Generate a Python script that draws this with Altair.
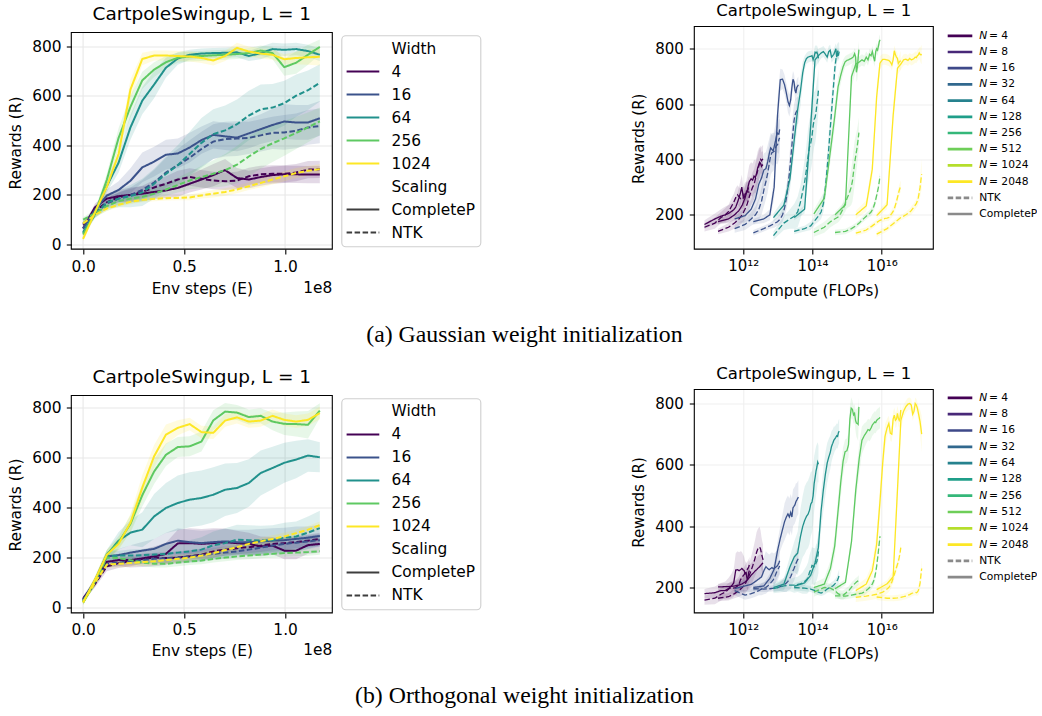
import altair as alt
import pandas as pd

FONT = "DejaVu Sans"
CAPTION_FONT = "Liberation Serif"

# ------------------------------------------------------------------ data
# environment steps at each evaluation point
env_steps = [0, 5.86e6, 1.172e7, 1.758e7, 2.344e7, 2.93e7, 3.516e7, 4.102e7, 4.688e7, 5.274e7,
             5.86e7, 6.446e7, 7.032e7, 7.618e7, 8.204e7, 8.79e7, 9.376e7, 9.962e7, 1.0548e8,
             1.1134e8, 1.172e8]

sweep_widths = [4, 16, 64, 256, 1024]
sweep_colors = ["#440154", "#3b528b", "#21918c", "#5ec962", "#fde725"]

compute_widths = [4, 8, 16, 32, 64, 128, 256, 512, 1024, 2048]
compute_colors = ["#440154", "#482878", "#3e4989", "#31688e", "#26828e",
                  "#1f9e89", "#35b779", "#6ece58", "#b5de2b", "#fde725"]
# training FLOPs per environment step for each width
flops_per_step = [1.29e4, 3.18e4, 9.60e4, 3.33e5, 1.27e6, 5.04e6, 1.87e7, 7.63e7, 3.04e8, 1.22e9]

scalings = ["CompleteP", "NTK"]

# ---- Gaussian init, reward vs env steps (mean and band half-width)
gauss_cp = {
    4: [65, 150, 185, 195, 200, 205, 212, 218, 228, 245, 262, 280, 300, 268, 262, 272, 280, 283, 283, 282, 282],
    16: [65, 140, 197, 220, 257, 311, 334, 362, 367, 391, 421, 442, 436, 431, 448, 465, 482, 496, 492, 492, 509],
    64: [50, 125, 235, 330, 472, 580, 645, 713, 750, 765, 770, 772, 773, 775, 760, 772, 788, 785, 788, 780, 765],
    256: [40, 125, 260, 430, 555, 662, 705, 735, 753, 758, 760, 763, 765, 768, 772, 782, 772, 715, 733, 765, 797],
    1024: [23, 130, 232, 365, 625, 748, 762, 762, 760, 758, 752, 742, 760, 793, 778, 770, 765, 747, 752, 755, 757],
}
gauss_ntk = {
    4: [80, 135, 170, 190, 200, 212, 230, 245, 262, 272, 265, 258, 255, 258, 275, 283, 285, 285, 290, 302, 303],
    16: [85, 125, 165, 185, 200, 220, 250, 290, 320, 350, 385, 415, 425, 427, 430, 440, 450, 452, 458, 472, 478],
    64: [45, 120, 170, 185, 195, 210, 245, 285, 320, 365, 410, 445, 460, 485, 520, 545, 552, 570, 600, 622, 652],
    256: [100, 125, 155, 175, 185, 192, 205, 222, 240, 258, 272, 285, 300, 322, 355, 385, 408, 428, 450, 472, 497],
    1024: [85, 120, 145, 160, 172, 180, 184, 187, 188, 190, 198, 205, 212, 222, 235, 248, 262, 275, 288, 297, 304],
}
gauss_cp_spread = {
    4: [10, 15, 20, 25, 30, 30, 30, 30, 35, 35, 40, 45, 45, 40, 35, 35, 35, 35, 35, 35, 35],
    16: [10, 15, 25, 35, 50, 60, 60, 60, 60, 60, 55, 55, 55, 55, 60, 60, 65, 70, 70, 70, 70],
    64: [10, 15, 25, 40, 50, 55, 55, 40, 25, 20, 20, 20, 20, 20, 20, 25, 25, 25, 25, 25, 25],
    256: [10, 15, 25, 40, 45, 35, 30, 25, 20, 20, 20, 20, 20, 20, 20, 20, 25, 35, 45, 40, 30],
    1024: [10, 15, 20, 30, 40, 25, 20, 20, 20, 20, 20, 20, 20, 20, 20, 20, 20, 20, 25, 30, 35],
}
gauss_ntk_spread = {
    4: [10, 15, 20, 20, 25, 25, 30, 30, 35, 35, 35, 35, 35, 35, 35, 35, 35, 35, 35, 35, 35],
    16: [10, 15, 20, 25, 30, 40, 50, 60, 65, 70, 70, 70, 70, 70, 65, 65, 65, 70, 70, 70, 70],
    64: [10, 15, 25, 35, 45, 55, 60, 70, 80, 90, 100, 100, 100, 100, 100, 100, 95, 90, 85, 80, 75],
    256: [10, 15, 20, 20, 20, 20, 20, 25, 30, 35, 45, 55, 65, 75, 80, 80, 75, 70, 65, 60, 55],
    1024: [10, 10, 10, 10, 10, 10, 10, 10, 10, 12, 12, 15, 15, 15, 15, 18, 20, 20, 20, 20, 20],
}

# ---- Orthogonal init, reward vs env steps
orth_cp = {
    4: [35, 100, 183, 190, 190, 197, 205, 215, 257, 258, 255, 258, 262, 258, 255, 245, 248, 228, 228, 250, 255],
    16: [30, 105, 205, 210, 220, 228, 235, 255, 268, 262, 258, 262, 265, 262, 262, 265, 268, 270, 275, 280, 287],
    64: [22, 108, 211, 268, 300, 312, 365, 399, 419, 432, 439, 452, 472, 479, 499, 539, 559, 580, 593, 609, 602],
    256: [20, 105, 211, 262, 335, 450, 545, 612, 643, 646, 665, 750, 785, 781, 763, 768, 745, 736, 735, 732, 789],
    1024: [20, 111, 211, 255, 340, 480, 606, 693, 720, 735, 703, 700, 749, 762, 745, 749, 768, 752, 745, 752, 779],
}
orth_ntk = {
    4: [35, 95, 165, 178, 185, 195, 200, 198, 200, 205, 212, 225, 232, 238, 242, 248, 255, 258, 262, 268, 275],
    16: [30, 100, 175, 180, 185, 190, 195, 198, 200, 205, 210, 215, 220, 225, 232, 240, 248, 255, 260, 265, 270],
    64: [25, 105, 205, 208, 208, 210, 212, 215, 220, 225, 232, 250, 258, 272, 270, 268, 270, 280, 285, 300, 318],
    256: [22, 100, 200, 198, 190, 180, 175, 175, 180, 185, 188, 195, 200, 205, 208, 212, 215, 218, 220, 222, 226],
    1024: [22, 100, 172, 175, 178, 182, 185, 190, 195, 200, 208, 218, 230, 242, 255, 265, 275, 285, 298, 312, 330],
}
orth_cp_spread = {
    4: [10, 15, 20, 25, 30, 35, 40, 45, 55, 60, 60, 60, 55, 50, 45, 40, 35, 35, 35, 35, 35],
    16: [10, 15, 20, 25, 30, 35, 40, 45, 50, 50, 50, 50, 50, 50, 50, 50, 50, 50, 50, 45, 45],
    64: [10, 15, 20, 35, 50, 70, 90, 100, 110, 110, 110, 110, 105, 100, 95, 90, 85, 80, 75, 65, 60],
    256: [10, 15, 20, 25, 35, 45, 50, 45, 40, 40, 40, 40, 35, 30, 30, 30, 35, 45, 50, 55, 30],
    1024: [10, 15, 20, 25, 35, 50, 45, 40, 30, 25, 25, 25, 25, 25, 25, 25, 25, 25, 25, 25, 25],
}
orth_ntk_spread = {
    4: [10, 15, 20, 20, 20, 20, 20, 25, 25, 25, 25, 25, 25, 25, 25, 25, 25, 25, 25, 25, 25],
    16: [10, 15, 15, 15, 15, 15, 20, 20, 20, 20, 20, 25, 25, 25, 25, 25, 25, 25, 25, 25, 25],
    64: [10, 15, 20, 20, 25, 25, 30, 35, 40, 45, 50, 55, 60, 60, 60, 60, 60, 60, 60, 65, 70],
    256: [10, 15, 15, 15, 15, 15, 15, 15, 15, 15, 15, 15, 15, 15, 15, 15, 15, 15, 15, 15, 15],
    1024: [10, 15, 15, 15, 15, 15, 15, 15, 15, 15, 15, 15, 15, 15, 15, 15, 15, 15, 15, 15, 15],
}

# ---- compute sweeps: first logged point of the swept widths, and the extra widths
gauss_first_cp = {4: 165, 16: 185, 64: 190, 256: 203, 1024: 200}
gauss_first_ntk = {4: 155, 16: 150, 64: 125, 256: 136, 1024: 134}
gauss_extra_cp = {
    8: [175, 185, 200, 215, 235, 260, 290, 320, 330, 325, 340, 335, 350, 370, 380, 390, 385, 375, 380, 378],
    32: [175, 185, 200, 300, 560, 688, 690, 670, 640, 610, 595, 615, 660, 690, 680, 650, 640, 660, 665, 670],
    128: [190, 220, 520, 760, 775, 785, 790, 780, 770, 790, 795, 770, 775, 780, 790, 800, 770, 785, 775, 790],
    512: [200, 236, 700, 745, 752, 760, 755, 770, 760, 780, 775, 790, 770, 755, 790, 800, 795, 810, 825, 833],
    2048: [197, 236, 560, 730, 745, 760, 762, 758, 765, 760, 762, 765, 770, 768, 775, 778, 785, 780, 778, 780],
}
gauss_extra_ntk = {
    8: [140, 155, 170, 185, 200, 220, 240, 265, 285, 300, 310, 330, 345, 360, 375, 390, 400, 395, 400, 402],
    32: [135, 150, 160, 168, 175, 185, 200, 225, 260, 300, 350, 400, 450, 500, 540, 560, 570, 575, 578, 580],
    128: [140, 150, 160, 180, 195, 210, 240, 300, 370, 440, 510, 570, 630, 680, 730, 760, 780, 790, 795, 790],
    512: [136, 140, 150, 160, 170, 180, 188, 195, 200, 205, 210, 218, 228, 240, 255, 270, 285, 300, 320, 340],
    2048: [130, 150, 168, 180, 190, 195, 200, 205, 210, 215, 222, 228, 235, 240, 250, 262, 280, 300, 325, 347],
}
gauss_extra_cp_spread = {
    8: [10, 15, 20, 25, 30, 40, 50, 60, 60, 60, 60, 60, 60, 60, 60, 55, 55, 50, 50, 50],
    32: [10, 15, 20, 40, 60, 40, 35, 35, 35, 40, 40, 40, 35, 30, 30, 30, 30, 30, 30, 30],
    128: [10, 15, 60, 30, 25, 20, 20, 20, 20, 20, 20, 20, 20, 20, 20, 20, 20, 20, 20, 20],
    512: [10, 15, 40, 25, 20, 20, 20, 20, 20, 20, 20, 20, 20, 20, 20, 20, 20, 20, 20, 20],
    2048: [10, 15, 40, 25, 20, 20, 20, 20, 20, 20, 20, 20, 20, 20, 20, 20, 20, 25, 30, 35],
}
gauss_extra_ntk_spread = {
    8: [10, 15, 20, 25, 30, 35, 40, 45, 50, 55, 55, 55, 55, 55, 55, 50, 50, 50, 50, 50],
    32: [10, 10, 10, 15, 15, 20, 25, 30, 40, 50, 60, 70, 70, 70, 60, 55, 50, 50, 50, 50],
    128: [10, 10, 15, 15, 20, 25, 30, 40, 50, 60, 60, 60, 55, 50, 45, 40, 35, 30, 30, 30],
    512: [10, 10, 10, 10, 10, 10, 10, 12, 12, 12, 15, 15, 15, 15, 15, 15, 15, 15, 15, 15],
    2048: [10, 10, 10, 10, 10, 10, 10, 12, 12, 15, 15, 15, 15, 15, 20, 25, 30, 35, 45, 55],
}

orth_first_cp = {4: 180, 16: 196, 64: 200, 256: 200, 1024: 190}
orth_first_ntk = {4: 159, 16: 190, 64: 196, 256: 185, 1024: 168}
orth_extra_cp = {
    8: [202, 203, 205, 208, 212, 218, 225, 232, 240, 245, 250, 255, 258, 262, 265, 268, 272, 275, 278, 280],
    32: [200, 205, 230, 260, 320, 360, 390, 415, 430, 440, 430, 445, 430, 460, 465, 470, 480, 485, 490, 495],
    128: [204, 215, 240, 280, 330, 450, 520, 570, 606, 625, 640, 660, 670, 680, 685, 690, 695, 693, 705, 710],
    512: [196, 217, 350, 520, 620, 680, 695, 705, 715, 712, 720, 730, 735, 740, 738, 745, 748, 750, 752, 755],
    2048: [193, 212, 235, 520, 745, 775, 790, 798, 800, 795, 765, 775, 800, 795, 785, 770, 755, 740, 720, 700],
}
orth_extra_ntk = {
    8: [165, 170, 180, 190, 200, 210, 225, 240, 255, 270, 285, 300, 315, 325, 330, 332, 325, 310, 300, 290],
    32: [196, 195, 196, 198, 200, 203, 206, 210, 215, 220, 228, 235, 245, 255, 262, 270, 278, 285, 290, 295],
    128: [200, 198, 195, 190, 185, 182, 185, 190, 195, 198, 200, 203, 205, 208, 212, 215, 220, 225, 232, 240],
    512: [173, 172, 175, 178, 180, 182, 185, 190, 195, 200, 205, 212, 220, 232, 250, 270, 295, 320, 345, 367],
    2048: [169, 165, 165, 166, 168, 170, 172, 175, 177, 180, 182, 184, 185, 183, 185, 190, 200, 215, 240, 262],
}
orth_extra_cp_spread = {
    8: [10, 12, 15, 20, 25, 30, 35, 40, 40, 40, 40, 40, 40, 40, 40, 40, 40, 40, 40, 40],
    32: [10, 10, 15, 20, 30, 40, 50, 60, 60, 60, 60, 60, 60, 60, 60, 60, 60, 55, 55, 55],
    128: [10, 10, 15, 25, 40, 60, 70, 70, 65, 60, 55, 50, 45, 45, 40, 40, 40, 40, 40, 40],
    512: [10, 10, 20, 40, 50, 45, 40, 35, 35, 35, 35, 35, 35, 35, 35, 35, 35, 35, 35, 35],
    2048: [10, 12, 20, 40, 30, 20, 20, 20, 20, 20, 20, 20, 20, 20, 20, 25, 30, 40, 50, 60],
}
orth_extra_ntk_spread = {
    8: [10, 12, 15, 20, 25, 30, 35, 40, 45, 50, 55, 60, 65, 65, 65, 65, 60, 55, 50, 50],
    32: [10, 10, 10, 10, 12, 15, 20, 25, 30, 30, 35, 40, 40, 40, 40, 40, 40, 40, 40, 40],
    128: [10, 10, 10, 10, 10, 10, 10, 12, 12, 12, 12, 15, 15, 15, 15, 15, 15, 18, 20, 20],
    512: [10, 10, 10, 10, 10, 10, 10, 10, 10, 12, 12, 12, 15, 15, 15, 15, 15, 20, 20, 20],
    2048: [10, 10, 10, 10, 10, 10, 10, 10, 10, 10, 10, 10, 10, 10, 12, 15, 18, 20, 25, 30],
}

# tick values / labels
step_ticks = [0, 5e7, 1e8]
reward_ticks_sweep = [0, 200, 400, 600, 800]
reward_ticks_compute = [200, 400, 600, 800]
flop_ticks = [1e12, 1e14, 1e16]
flop_tick_text = ["10\u00b9\u00b2", "10\u00b9\u2074", "10\u00b9\u2076"]

panel_title = "CartpoleSwingup, L = 1"
caption_a = "(a) Gaussian weight initialization"
caption_b = "(b) Orthogonal weight initialization"


# ------------------------------------------------------------------ tables
def sweep_table(cp, ntk, cp_sd, ntk_sd):
    rows = []
    for w in sweep_widths:
        for scaling, vals, sds in (("CompleteP", cp[w], cp_sd[w]), ("NTK", ntk[w], ntk_sd[w])):
            for step, v, s in zip(env_steps, vals, sds):
                rows.append({"x": step, "reward": v, "lo": v - s, "hi": v + s,
                             "width": str(w), "scaling": scaling, "series": f"{w}-{scaling}"})
    return pd.DataFrame(rows)


def compute_table(cp, ntk, cp_sd, ntk_sd, first_cp, first_ntk,
                  extra_cp, extra_ntk, extra_cp_sd, extra_ntk_sd):
    rows = []
    for w, fps in zip(compute_widths, flops_per_step):
        for scaling in scalings:
            is_cp = scaling == "CompleteP"
            if w in sweep_widths:
                first = (first_cp if is_cp else first_ntk)[w]
                vals = [first] + (cp if is_cp else ntk)[w][2:]
                sds = (cp_sd if is_cp else ntk_sd)[w][1:]
            else:
                vals = (extra_cp if is_cp else extra_ntk)[w]
                sds = (extra_cp_sd if is_cp else extra_ntk_sd)[w]
            for step, v, s in zip(env_steps[1:], vals, sds):
                rows.append({"x": step * fps, "reward": v, "lo": v - s, "hi": v + s,
                             "width": str(w), "scaling": scaling, "series": f"{w}-{scaling}"})
    return pd.DataFrame(rows)


gauss_sweep = sweep_table(gauss_cp, gauss_ntk, gauss_cp_spread, gauss_ntk_spread)
orth_sweep = sweep_table(orth_cp, orth_ntk, orth_cp_spread, orth_ntk_spread)
gauss_compute = compute_table(gauss_cp, gauss_ntk, gauss_cp_spread, gauss_ntk_spread,
                              gauss_first_cp, gauss_first_ntk, gauss_extra_cp, gauss_extra_ntk,
                              gauss_extra_cp_spread, gauss_extra_ntk_spread)
orth_compute = compute_table(orth_cp, orth_ntk, orth_cp_spread, orth_ntk_spread,
                             orth_first_cp, orth_first_ntk, orth_extra_cp, orth_extra_ntk,
                             orth_extra_cp_spread, orth_extra_ntk_spread)


# ------------------------------------------------------------------ panels
def panel(df, *, width, height, x_dom, y_dom, frame_top, log_x, colors, domain_labels,
          dash, line_w, band_op, title_size, title_offset, font_size,
          x_axis_kw, y_axis_kw, grid_color, draw_x_grid_rules, offset_text=None):
    x_scale = alt.Scale(domain=x_dom, nice=False, zero=False, type="log" if log_x else "linear")
    y_scale = alt.Scale(domain=y_dom, nice=False, zero=False)
    common = dict(labelFont=FONT, labelFontSize=font_size, labelColor="black",
                  titleFont=FONT, titleFontSize=font_size, titleColor="black",
                  titleFontWeight="normal", tickColor="black", tickSize=5, tickWidth=1.1,
                  domain=False, gridColor=grid_color, gridWidth=1.1)
    x_axis = alt.Axis(**common, **x_axis_kw)
    y_axis = alt.Axis(**common, **y_axis_kw)

    def X(f):
        return alt.X(f, type="quantitative", scale=x_scale, axis=x_axis)

    def Y(f):
        return alt.Y(f, type="quantitative", scale=y_scale, axis=y_axis)

    color = alt.Color("width:N", scale=alt.Scale(domain=domain_labels, range=colors), legend=None)
    stroke_dash = alt.StrokeDash("scaling:N", scale=alt.Scale(domain=scalings, range=[[1, 0], dash]),
                                 legend=None)

    layers = []
    if draw_x_grid_rules:
        grid_df = pd.DataFrame({"gx": step_ticks, "g0": [y_dom[0]] * len(step_ticks),
                                "g1": [frame_top] * len(step_ticks)})
        layers.append(alt.Chart(grid_df).mark_rule(color=grid_color, strokeWidth=1.1)
                      .encode(x=X("gx"), y=Y("g0"), y2="g1"))
    layers.append(alt.Chart(df).mark_area(opacity=band_op, clip=True)
                  .encode(x=X("x"), y=Y("lo"), y2="hi", color=color, detail="series:N"))
    layers.append(alt.Chart(df).mark_line(strokeWidth=line_w, clip=True)
                  .encode(x=X("x"), y=Y("reward"), color=color, strokeDash=stroke_dash,
                          detail="series:N"))
    frame_df = pd.DataFrame({"x0": [x_dom[0]], "x1": [x_dom[1]], "y0": [y_dom[0]], "y1": [frame_top]})
    layers.append(alt.Chart(frame_df).mark_rect(fillOpacity=0, stroke="black", strokeWidth=1.1)
                  .encode(x=X("x0"), x2="x1", y=Y("y0"), y2="y1"))
    if offset_text is not None:
        text, ty = offset_text
        layers.append(alt.Chart(pd.DataFrame({"t": [text]}))
                      .mark_text(align="right", baseline="alphabetic", font=FONT,
                                 fontSize=font_size, color="black")
                      .encode(x=alt.value(width), y=alt.value(ty), text="t:N"))
    return alt.layer(*layers).properties(
        width=width, height=height,
        title=alt.TitleParams(panel_title, font=FONT, fontSize=title_size, fontWeight="normal",
                              color="black", anchor="middle", frame="group",
                              baseline="alphabetic", offset=title_offset),
    )


def sweep_panel(df, height, y_dom, frame_top, title_offset, ytitle_y, xlabel_base, xtitle_base):
    return panel(
        df, width=261, height=height, x_dom=[-5.84e6, 1.2337e8], y_dom=y_dom, frame_top=frame_top,
        log_x=False, colors=sweep_colors, domain_labels=[str(w) for w in sweep_widths],
        dash=[5.5, 2.5], line_w=2, band_op=0.15, title_size=18.5, title_offset=title_offset,
        font_size=15.4, grid_color="#e8e8e8", draw_x_grid_rules=True,
        x_axis_kw=dict(values=step_ticks, labelExpr="format(datum.value / 1e8, '.1f')", grid=False,
                       labelBaseline="alphabetic", labelPadding=xlabel_base - 5,
                       title="Env steps (E)", titleX=130.5, titleY=xtitle_base,
                       titleBaseline="alphabetic", titleAlign="center", titleAnchor="middle"),
        y_axis_kw=dict(values=reward_ticks_sweep, grid=True, labelPadding=5.3,
                       title="Rewards (R)", titleX=-56, titleY=ytitle_y, titleAngle=270,
                       titleAlign="center", titleBaseline="middle"),
        offset_text=("1e8", height + xtitle_base - 0.6),
    )


flop_label_expr = (f"datum.value < 1e13 ? '{flop_tick_text[0]}' : "
                   f"datum.value < 1e15 ? '{flop_tick_text[1]}' : '{flop_tick_text[2]}'")


def compute_panel(df, height, y_dom, title_offset, ytitle_y, xlabel_base, xtitle_base):
    return panel(
        df, width=239, height=height, x_dom=[10 ** 10.584, 10 ** 17.491], y_dom=y_dom,
        frame_top=y_dom[1], log_x=True, colors=compute_colors,
        domain_labels=[str(w) for w in compute_widths], dash=[4.4, 1.9], line_w=1.3,
        band_op=0.12, title_size=16.5, title_offset=title_offset, font_size=15,
        grid_color="#f0f0f0", draw_x_grid_rules=False,
        x_axis_kw=dict(values=flop_ticks, labelExpr=flop_label_expr, grid=True,
                       labelBaseline="alphabetic", labelPadding=xlabel_base - 5,
                       title="Compute (FLOPs)", titleX=119.5, titleY=xtitle_base,
                       titleBaseline="alphabetic", titleAlign="center", titleAnchor="middle"),
        y_axis_kw=dict(values=reward_ticks_compute, grid=True, labelPadding=6,
                       title="Rewards (R)", titleX=-56, titleY=ytitle_y, titleAngle=270,
                       titleAlign="center", titleBaseline="middle"),
    )


# ------------------------------------------------------------------ legends
def sweep_legend(height):
    labels = ["Width"] + [str(w) for w in sweep_widths] + ["Scaling", "CompleteP", "NTK"]
    colors = ["none"] + sweep_colors + ["none", "#3d3d3d", "#3d3d3d"]
    dashes = ["none"] + ["solid"] * 5 + ["none", "solid", "dashed"]
    ent = pd.DataFrame({"r": list(range(len(labels))), "label": labels, "color": colors,
                        "dash": dashes, "s0": 5.3, "s1": 38.0, "tx": 50.3})
    row0, gap = 22.0, 23.0
    xs = alt.Scale(domain=[0, 140], nice=False, zero=False)
    ys = alt.Scale(domain=[-row0 / gap, (height - row0) / gap], nice=False, zero=False, reverse=True)
    box = pd.DataFrame({"x0": [0.5], "x1": [139.5], "y0": [-0.552], "y1": [8.622]})
    box_layer = alt.Chart(box).mark_rect(fill="white", stroke="#cfcfcf", strokeWidth=1.1,
                                         cornerRadius=4).encode(
        x=alt.X("x0:Q", scale=xs, axis=None), x2="x1",
        y=alt.Y("y0:Q", scale=ys, axis=None), y2="y1")
    seg = alt.Chart(ent).transform_filter("datum.dash != 'none'").mark_rule(strokeWidth=2.2).encode(
        x=alt.X("s0:Q", scale=xs, axis=None), x2="s1:Q",
        y=alt.Y("r:Q", scale=ys, axis=None),
        color=alt.Color("color:N", scale=None),
        strokeDash=alt.StrokeDash("dash:N", scale=alt.Scale(domain=["solid", "dashed"],
                                                            range=[[1, 0], [5.5, 2.5]]), legend=None))
    txt = alt.Chart(ent).mark_text(align="left", baseline="middle", font=FONT, fontSize=15.4,
                                   color="black").encode(
        x=alt.X("tx:Q", scale=xs, axis=None), y=alt.Y("r:Q", scale=ys, axis=None), text="label:N")
    return alt.layer(box_layer, seg, txt).properties(width=140, height=height)


def compute_legend(height, row0, gap):
    pre = ["N"] * len(compute_widths) + ["", ""]
    post = [f"= {w}" for w in compute_widths] + ["NTK", "CompleteP"]
    colors = compute_colors + ["#8a8a8a", "#8a8a8a"]
    dashes = ["solid"] * len(compute_widths) + ["dashed", "solid"]
    post_x = [46.7] * len(compute_widths) + [37.0, 37.0]
    ent = pd.DataFrame({"r": list(range(len(post))), "pre": pre, "post": post, "color": colors,
                        "dash": dashes, "s0": 5.4, "s1": 30.0, "tx": 37.0, "px": post_x})
    xs = alt.Scale(domain=[0, 90], nice=False, zero=False)
    ys = alt.Scale(domain=[-row0 / gap, (height - row0) / gap], nice=False, zero=False, reverse=True)
    seg = alt.Chart(ent).mark_rule(strokeWidth=2.7).encode(
        x=alt.X("s0:Q", scale=xs, axis=None), x2="s1:Q",
        y=alt.Y("r:Q", scale=ys, axis=None),
        color=alt.Color("color:N", scale=None),
        strokeDash=alt.StrokeDash("dash:N", scale=alt.Scale(domain=["solid", "dashed"],
                                                            range=[[1, 0], [8, 4.5]]), legend=None))
    ital = alt.Chart(ent).transform_filter("datum.pre != ''").mark_text(
        align="left", baseline="middle", font=FONT, fontSize=10.7, fontStyle="italic",
        color="black").encode(
        x=alt.X("tx:Q", scale=xs, axis=None), y=alt.Y("r:Q", scale=ys, axis=None), text="pre:N")
    rest = alt.Chart(ent).mark_text(align="left", baseline="middle", font=FONT, fontSize=10.7,
                                    color="black").encode(
        x=alt.X("px:Q", scale=xs, axis=None), y=alt.Y("r:Q", scale=ys, axis=None), text="post:N")
    return alt.layer(seg, ital, rest).properties(width=90, height=height)


def caption_cell(height, caption, offset):
    return alt.Chart(pd.DataFrame({"v": [0]})).mark_point(opacity=0).encode(
        x=alt.X("v:Q", axis=None), y=alt.Y("v:Q", axis=None)
    ).properties(
        width=194.3, height=height,
        title=alt.TitleParams(caption, orient="bottom", anchor="middle", frame="group",
                              baseline="alphabetic", offset=offset, dx=-63,
                              font=CAPTION_FONT, fontSize=23.8, fontWeight="normal", color="black"),
    )


H1, H2 = 222.6, 223.4

panel_a = sweep_panel(gauss_sweep, H1, [-18.5, 879], 854.8, -12.1, 116, 22.4, 44)
panel_b = compute_panel(gauss_compute, H1, [76, 880.6], -6.5, 111.8, 21.7, 46)
panel_c = sweep_panel(orth_sweep, H2, [-21.5, 873.6], 849.5, -12.5, 115, 21.6, 42.3)
panel_d = compute_panel(orth_compute, H2, [117.2, 845.7], -6.5, 112.5, 21.6, 45.9)

chart = alt.concat(
    panel_a, sweep_legend(H1), caption_cell(H1, caption_a, 93.2), panel_b, compute_legend(H1, 9.3, 16.2),
    panel_c, sweep_legend(H2), caption_cell(H2, caption_b, 90.3), panel_d, compute_legend(H2, 8.4, 16.3),
    columns=5, spacing={"row": 140, "column": 9}, bounds="flush", align="each",
).properties(
    padding={"left": 8.3, "top": 2.5, "right": 0, "bottom": 0},
    background="white",
).configure(font=FONT).configure_view(stroke="transparent", strokeWidth=0)

chart.save("out.html", embed_options={"renderer": "svg", "actions": False})
